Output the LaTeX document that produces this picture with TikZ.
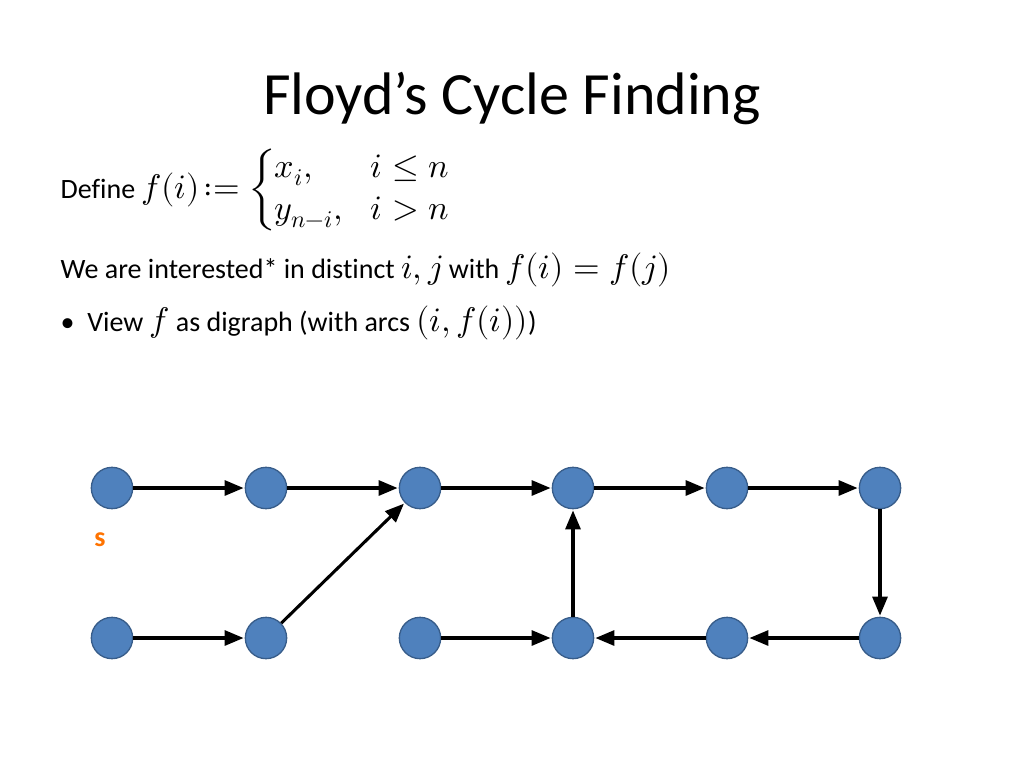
\documentclass[tikz,border=0pt]{standalone}
\usepackage{amsmath}
\usepackage{fontspec}
\usepackage{unicode-math}
\setmainfont{Carlito}[RawFeature=-liga]
\setmathfont{Latin Modern Math}[Scale=1.22]
\usetikzlibrary{arrows,positioning}
\definecolor{vfill}{RGB}{79,129,189}
\definecolor{vline}{RGB}{56,93,138}
\tikzset{
  vertex/.style = {circle, draw=vline, line width=1pt, fill=vfill, minimum size=31pt, inner sep=0pt},
  arc/.style    = {draw, -triangle 45, line width=2.3pt, shorten >=1pt},
}
\begin{document}
\begin{tikzpicture}[x=0.75pt,y=-0.75pt]
    \useasboundingbox (0,0) rectangle (1024,768);
    \node at (512,98) {\fontsize{45}{50}\selectfont Floyd’s Cycle Finding};
    \node[anchor=west] at (56,190) {\fontsize{21}{26}\selectfont Define $f(i)\!:=\begin{cases} x_i, & i\le n\\ y_{n-i}, & i>n\end{cases}$};
    \node[anchor=west] at (56,270) {\fontsize{21}{26}\selectfont We are interested* in distinct $i,j$ with $f(i)=f(j)$};
    \node[anchor=west] at (56,323) {\fontsize{21}{26}\selectfont • \ View $f$ as digraph (with arcs $(i,f(i))$)};
    % top row
    \foreach \n/\x in {1/112,2/266,3/420,4/573,5/727,6/880} {
        \node [vertex] (t\n) at (\x,488) {};
        \node [vertex] (b\n) at (\x,638) {};
    }
    \node [text=orange!90!red, font=\bfseries\fontsize{21}{24}\selectfont] (s) at (100,540) {s};
    \foreach \a/\b in {t1/t2,t2/t3,t3/t4,t4/t5,t5/t6,t6/b6,b6/b5,b5/b4,b3/b4,b4/t4,b1/b2,b2/t3}
        \draw [arc] (\a) -- (\b);
\end{tikzpicture}
\end{document}
